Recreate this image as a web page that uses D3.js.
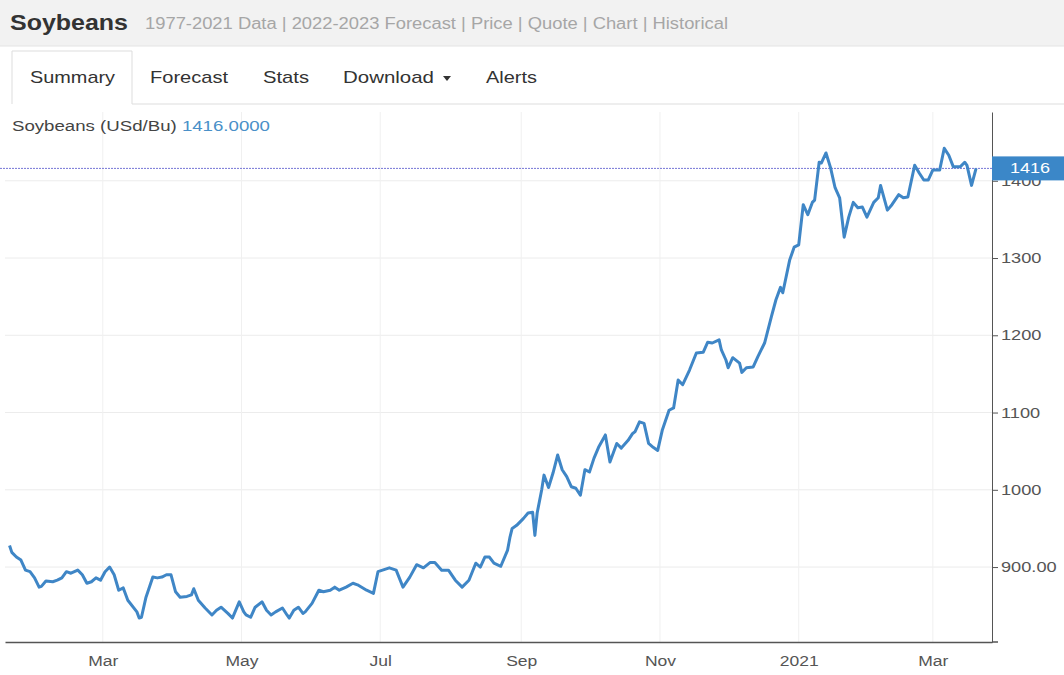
<!DOCTYPE html>
<html>
<head>
<meta charset="utf-8">
<script src="https://cdn.jsdelivr.net/npm/d3@7"></script>
<style>
  body { margin: 0; background: #fff; }
  svg { display: block; font-family: "Liberation Sans", Arial, sans-serif; }
</style>
</head>
<body>
<svg id="chart"></svg>
<script>
const width = 1064;
const height = 675;

// plot box
const plotLeft = 5, plotRight = 992, plotTop = 112, plotBottom = 642;

const dates = [
  '2020-01-20','2020-01-21','2020-01-23','2020-01-25','2020-01-27','2020-01-29','2020-01-31',
  '2020-02-02','2020-02-03','2020-02-05','2020-02-08','2020-02-10','2020-02-12','2020-02-14','2020-02-16','2020-02-19','2020-02-21','2020-02-23','2020-02-25','2020-02-27','2020-02-29',
  '2020-03-02','2020-03-04','2020-03-06','2020-03-08','2020-03-10','2020-03-12','2020-03-16','2020-03-17','2020-03-18','2020-03-20','2020-03-23','2020-03-25','2020-03-27','2020-03-29','2020-03-31',
  '2020-04-02','2020-04-04','2020-04-07','2020-04-09','2020-04-10','2020-04-12','2020-04-15','2020-04-18','2020-04-20','2020-04-22','2020-04-25','2020-04-27','2020-04-30',
  '2020-05-02','2020-05-03','2020-05-05','2020-05-07','2020-05-10','2020-05-12','2020-05-14','2020-05-16','2020-05-19','2020-05-21','2020-05-22','2020-05-24','2020-05-26','2020-05-28','2020-05-29',
  '2020-06-01','2020-06-04','2020-06-06','2020-06-09','2020-06-11','2020-06-13','2020-06-16','2020-06-19','2020-06-21','2020-06-25','2020-06-28','2020-06-30',
  '2020-07-02','2020-07-05','2020-07-08','2020-07-11','2020-07-14','2020-07-17','2020-07-20','2020-07-23','2020-07-25','2020-07-28','2020-07-31',
  '2020-08-03','2020-08-06','2020-08-09','2020-08-12','2020-08-14','2020-08-16','2020-08-18','2020-08-20','2020-08-23','2020-08-26','2020-08-27','2020-08-28','2020-08-30',
  '2020-09-02','2020-09-04','2020-09-06','2020-09-07','2020-09-08','2020-09-10','2020-09-11','2020-09-13','2020-09-15','2020-09-17','2020-09-19','2020-09-21','2020-09-23','2020-09-25','2020-09-27','2020-09-29',
  '2020-10-01','2020-10-03','2020-10-05','2020-10-08','2020-10-10','2020-10-13','2020-10-15','2020-10-18','2020-10-20','2020-10-21','2020-10-23','2020-10-25','2020-10-27','2020-10-29','2020-10-31',
  '2020-11-02','2020-11-05','2020-11-07','2020-11-09','2020-11-11','2020-11-14','2020-11-17','2020-11-20','2020-11-22','2020-11-24','2020-11-27','2020-11-28','2020-11-30',
  '2020-12-01','2020-12-03','2020-12-06','2020-12-07','2020-12-09','2020-12-12','2020-12-14','2020-12-17','2020-12-20','2020-12-22','2020-12-24','2020-12-25','2020-12-28','2020-12-30',
  '2021-01-01','2021-01-03','2021-01-05','2021-01-07','2021-01-08','2021-01-10','2021-01-11','2021-01-13','2021-01-15','2021-01-17','2021-01-19','2021-01-21','2021-01-23','2021-01-25','2021-01-27','2021-01-29','2021-01-31',
  '2021-02-03','2021-02-05','2021-02-06','2021-02-09','2021-02-11','2021-02-14','2021-02-16','2021-02-18','2021-02-21','2021-02-23','2021-02-25','2021-02-27',
  '2021-03-01','2021-03-04','2021-03-06','2021-03-08','2021-03-10','2021-03-13','2021-03-15','2021-03-16','2021-03-18','2021-03-20'
];

const prices = [
  928,919,913,909,896,894,886,
  874,875,882,881,883,886,894,892,896,890,879,881,886,883,
  894,900,890,870,873,857,842,834,835,861,887,886,887,890,890,
  868,861,862,864,872,857,847,838,844,848,840,834,855,
  842,838,835,848,855,844,838,842,847,838,834,844,848,840,842,
  853,870,868,870,874,870,874,879,877,870,866,894,
  896,899,896,874,887,903,899,906,906,896,896,
  883,874,883,905,900,913,913,905,901,922,938,950,954,
  963,970,971,941,970,1000,1019,1003,1022,1045,1026,1017,1004,1002,993,1026,
  1023,1041,1055,1071,1036,1060,1054,1064,1073,1075,1088,1086,1060,1055,1051,
  1077,1103,1106,1142,1136,1155,1177,1178,1191,1190,1194,1181,1168,
  1158,1171,1164,1152,1158,1159,1172,1190,1224,1246,1262,1255,1297,1314,
  1317,1369,1356,1372,1375,1424,1423,1436,1417,1391,1378,1327,1353,1372,1365,1366,1353,
  1372,1378,1394,1362,1369,1382,1378,1379,1420,1410,1401,1401,
  1414,1414,1442,1433,1418,1418,1424,1420,1394,1416
];

const lastPrice = 1416;
const yTicks = [900, 1000, 1100, 1200, 1300, 1400];
const yTickLabels = ['900.00', '1000', '1100', '1200', '1300', '1400'];
const xTickDates = ['2020-03-01','2020-05-01','2020-07-01','2020-09-01','2020-11-01','2021-01-01','2021-03-01'];
const xTickLabels = ['Mar', 'May', 'Jul', 'Sep', 'Nov', '2021', 'Mar'];
const tabs = ['Summary', 'Forecast', 'Stats', 'Download', 'Alerts'];
const tabX = [30, 150, 263, 343, 486];
const tabW = [85, 78, 46, 91, 51];

const parse = d3.timeParse('%Y-%m-%d');
const data = dates.map((d, i) => ({date: parse(d), value: prices[i]}));

// the screenshot text is a bit wider than the font, stretch it
function stretch(sel, k) {
  sel.each(function() {
    this.setAttribute('textLength', this.getComputedTextLength() * k);
    this.setAttribute('lengthAdjust', 'spacingAndGlyphs');
  });
}

const svg = d3.select('#chart').attr('width', width).attr('height', height);

// header
svg.append('rect').attr('x', 0).attr('y', 0).attr('width', width).attr('height', 46).attr('fill', '#f2f2f2');
svg.append('line').attr('x1', 0).attr('x2', width).attr('y1', 46).attr('y2', 46).attr('stroke', '#e4e4e4');
svg.append('text').attr('x', 10).attr('y', 30)
  .attr('font-size', 22).attr('font-weight', 'bold').attr('fill', '#333')
  .attr('textLength', 118).attr('lengthAdjust', 'spacingAndGlyphs')
  .text('Soybeans');
svg.append('text').attr('x', 145).attr('y', 29)
  .attr('font-size', 16).attr('fill', '#a6a6a6')
  .attr('textLength', 583).attr('lengthAdjust', 'spacingAndGlyphs')
  .text('1977-2021 Data | 2022-2023 Forecast | Price | Quote | Chart | Historical');

// tabs
svg.append('line').attr('x1', 132).attr('x2', width).attr('y1', 104).attr('y2', 104).attr('stroke', '#ddd');
svg.append('path').attr('d', 'M12,104V51H132V104').attr('fill', 'none').attr('stroke', '#ddd');
svg.selectAll('.tab').data(tabs).enter().append('text')
  .attr('class', 'tab')
  .attr('x', (d, i) => tabX[i]).attr('y', 83)
  .attr('font-size', 17).attr('fill', '#333')
  .attr('textLength', (d, i) => tabW[i]).attr('lengthAdjust', 'spacingAndGlyphs')
  .text(d => d);
svg.append('path').attr('d', 'M443,76L451,76L447,81Z').attr('fill', '#333');

const x = d3.scaleTime()
  .domain([new Date(2020, 0, 18), new Date(2021, 2, 27)])
  .range([plotLeft, plotRight]);
const y = d3.scaleLinear().domain([803, 1489]).range([plotBottom, plotTop]);

// grid
svg.append('g').selectAll('line').data(yTicks).enter().append('line')
  .attr('x1', plotLeft).attr('x2', plotRight)
  .attr('y1', d => y(d)).attr('y2', d => y(d))
  .attr('stroke', '#ececec');
svg.append('g').selectAll('line').data(xTickDates).enter().append('line')
  .attr('x1', d => x(parse(d))).attr('x2', d => x(parse(d)))
  .attr('y1', plotTop).attr('y2', plotBottom)
  .attr('stroke', '#f0f0f0');

// series label
const lbl = svg.append('text').attr('x', 12).attr('y', 131).attr('font-size', 14)
  .attr('textLength', 258).attr('lengthAdjust', 'spacingAndGlyphs');
lbl.append('tspan').attr('fill', '#444').text('Soybeans (USd/Bu) ');
lbl.append('tspan').attr('fill', '#4a90c8').text(d3.format('.4f')(lastPrice));

// axes
const yAxis = svg.append('g').attr('transform', `translate(${plotRight},0)`)
  .call(d3.axisRight(y).tickValues(yTicks).tickFormat((d, i) => yTickLabels[i]).tickSize(6).tickSizeOuter(0).tickPadding(3));
yAxis.select('.domain').attr('stroke', '#555');
yAxis.selectAll('.tick line').attr('stroke', '#555');
yAxis.selectAll('text').attr('fill', '#555').attr('font-size', 14).attr('font-family', null).call(stretch, 1.3);

const xAxis = svg.append('g').attr('transform', `translate(0,${plotBottom})`)
  .call(d3.axisBottom(x).tickValues(xTickDates.map(parse)).tickFormat((d, i) => xTickLabels[i]).tickSize(0).tickSizeOuter(0).tickPadding(14));
xAxis.select('.domain').attr('stroke', '#555').attr('stroke-width', 1.5);
xAxis.selectAll('text').attr('fill', '#555').attr('font-size', 14).attr('font-family', null).call(stretch, 1.25);
svg.append('line').attr('x1', plotRight).attr('x2', plotRight + 6).attr('y1', plotBottom).attr('y2', plotBottom).attr('stroke', '#555').attr('stroke-width', 1.5);

// last price line
svg.append('line')
  .attr('x1', 0).attr('x2', plotRight)
  .attr('y1', y(lastPrice)).attr('y2', y(lastPrice))
  .attr('stroke', '#7676d6').attr('stroke-width', 1).attr('stroke-dasharray', '2,1');

// series
const line = d3.line().x(d => x(d.date)).y(d => y(d.value));
svg.append('path').datum(data)
  .attr('fill', 'none')
  .attr('stroke', '#3f86c6')
  .attr('stroke-width', 3)
  .attr('stroke-linejoin', 'round')
  .attr('d', line);

// price tag
svg.append('rect')
  .attr('x', plotRight).attr('y', y(lastPrice) - 12)
  .attr('width', width - plotRight).attr('height', 24)
  .attr('fill', '#3b87c8');
svg.append('text')
  .attr('x', plotRight + 38).attr('y', y(lastPrice) + 5)
  .attr('text-anchor', 'middle').attr('font-size', 15).attr('fill', '#fff')
  .text(lastPrice)
  .call(stretch, 1.2);
</script>
</body>
</html>
